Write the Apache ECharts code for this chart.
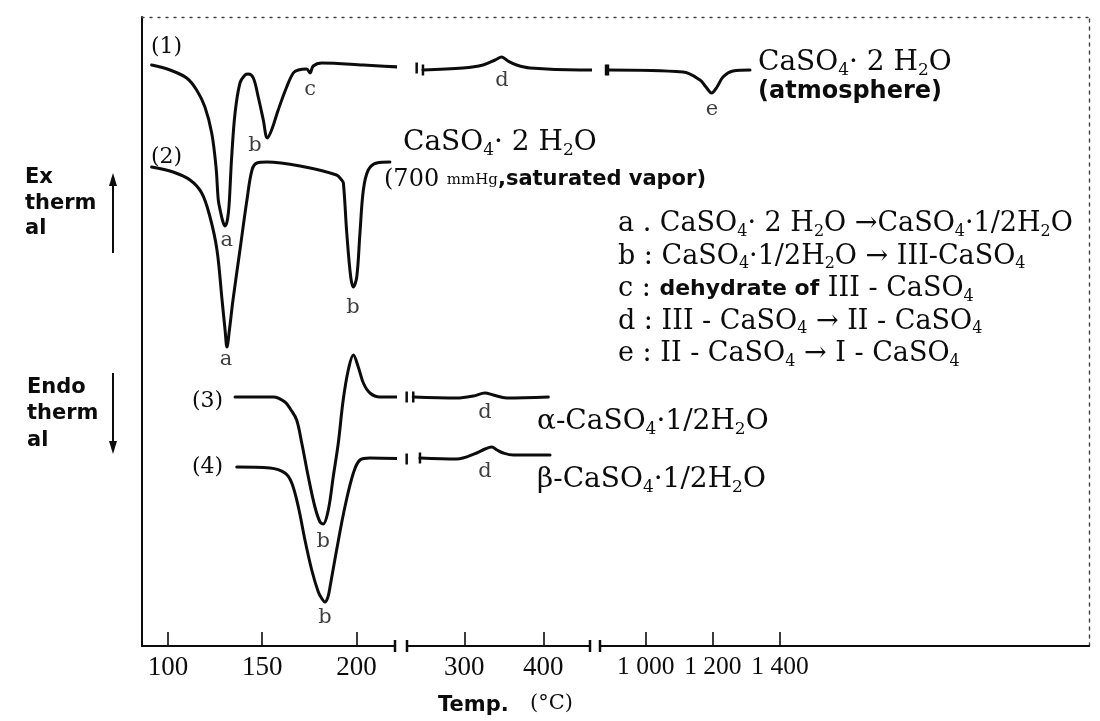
<!DOCTYPE html>
<html>
<head>
<meta charset="utf-8">
<script src="https://cdn.jsdelivr.net/npm/echarts@6/dist/echarts.min.js"></script>
<style>
html, body { margin: 0; padding: 0; background: #fff; }
#chart { width: 1100px; height: 721px; }
</style>
</head>
<body>
<div id="chart"></div>
<script>
// DTA curves of calcium sulfate hydrates; the temperature axis is broken into three ranges.

// tick values of the three temperature ranges (°C)
const lowTicks = [100, 150, 200];
const midTicks = [300, 400];
const highTicks = [1000, 1200, 1400];
const highTickLabels = ['1 000', '1 200', '1 400'];

// [temperature °C, DTA signal (arbitrary units)]
// (1) CaSO4·2H2O in atmosphere
const curve1Low = [
  [91.3, 58.1], [101.1, 57.6], [109.9, 56.8], [115.2, 55.6], [119.6, 53.9], [123.2, 51.3],
  [125.5, 47.9], [126.7, 44.6], [127.9, 43.4], [129.2, 42.4], [130.3, 42.0], [131.3, 42.4],
  [132.1, 43.4], [132.6, 44.6], [133.8, 48.9], [135.6, 53.3], [138.2, 56.3], [140.9, 57.1],
  [142.6, 57.2], [145.3, 56.8], [147.9, 54.9], [150.6, 52.6], [152.7, 50.8], [155.0, 51.6],
  [158.5, 53.6], [163.0, 55.9], [166.5, 57.3], [169.2, 57.6], [173.6, 57.7], [175.4, 57.3],
  [177.1, 58.0], [181.6, 58.3], [203.7, 58.1], [232.0, 57.8]
];
const curve1Mid = [
  [247.7, 57.6], [298.4, 57.8], [323.7, 58.1], [339.0, 58.6], [347.3, 58.9], [355.3, 58.5],
  [366.3, 58.1], [383.2, 57.8], [446.5, 57.6], [479.4, 57.6]
];
const curve1High = [
  [887.7, 57.6], [1111.1, 57.4], [1161.7, 56.6], [1179.6, 55.9], [1196.2, 55.3], [1212.3, 55.9],
  [1230.2, 56.9], [1260.0, 57.5], [1310.6, 57.6]
];
// (2) CaSO4·2H2O under saturated vapour
const curve2Low = [
  [91.3, 47.9], [102.7, 47.4], [111.7, 46.6], [117.9, 45.3], [122.3, 42.9], [126.0, 39.6],
  [128.7, 34.6], [130.3, 31.6], [131.3, 29.9], [132.6, 31.6], [134.5, 34.6], [138.2, 39.6],
  [141.9, 44.6], [144.6, 47.6], [147.2, 48.3], [152.5, 48.4], [170.1, 48.0], [189.5, 47.1],
  [192.2, 46.6], [193.1, 46.3], [194.9, 41.3], [197.0, 36.9], [198.4, 35.9], [200.2, 36.9],
  [201.9, 41.3], [203.7, 45.6], [206.3, 47.6], [210.8, 48.3], [217.8, 48.4]
];
// (3) alpha hemihydrate
const curve3Low = [
  [135.6, 24.9], [155.9, 24.9], [162.1, 24.4], [165.3, 23.6], [168.3, 22.6], [171.0, 20.3],
  [174.5, 16.9], [178.0, 13.9], [180.7, 12.4], [182.4, 12.2], [185.1, 13.6], [187.7, 16.9],
  [190.4, 20.3], [193.0, 24.6], [195.7, 27.6], [198.4, 29.1], [201.0, 27.9], [203.7, 26.3],
  [207.2, 25.3], [212.5, 24.9], [226.7, 24.9]
];
const curve3Mid = [
  [235.4, 24.9], [290.4, 24.8], [311.4, 25.0], [326.2, 25.3], [336.7, 25.1], [353.7, 24.8],
  [406.3, 24.9]
];
// (4) beta hemihydrate
const curve4Low = [
  [136.5, 17.9], [154.1, 17.8], [162.1, 17.3], [165.7, 16.3], [169.2, 13.9], [172.7, 10.6],
  [176.3, 7.6], [179.8, 5.4], [181.8, 4.7], [183.3, 4.4], [184.9, 4.9], [186.0, 5.9],
  [189.5, 9.6], [193.9, 13.9], [198.4, 17.3], [201.9, 18.6], [207.2, 18.8], [226.7, 18.7]
];
const curve4Mid = [
  [243.9, 18.8], [290.4, 18.7], [315.7, 19.3], [326.2, 19.7], [334.7, 19.9], [341.4, 19.6],
  [349.4, 19.3], [362.0, 19.1], [408.5, 19.1]
];

// reaction letters beside the peaks: [temperature, signal, letter]
const lettersLow = [
  [131.2, 40.5, 'a'], [146.2, 50.0, 'b'], [175.4, 55.6, 'c'],
  [130.8, 28.6, 'a'], [198.2, 33.8, 'b'],
  [182.4, 10.4, 'b'], [183.3, 2.8, 'b']
];
const lettersMid = [[347.7, 56.5, 'd'], [326.2, 23.3, 'd'], [326.2, 17.4, 'd']];
const lettersHigh = [[1197.4, 53.6, 'e']];

const INK = '#0c0c0c';
const SERIF = '"DejaVu Serif", serif';
const NUMSERIF = '"Liberation Serif", serif';
const SANS = '"DejaVu Sans", sans-serif';

const chart = echarts.init(document.getElementById('chart'), null, { renderer: 'canvas' });

// short vertical bar drawn where a curve is cut at an axis break
function cut(p) {
  return { value: p, symbol: 'rect', symbolSize: [2.5, 11], itemStyle: { color: INK } };
}
function withCuts(arr, atStart, atEnd) {
  return arr.map((p, i) => {
    if ((atStart && i === 0) || (atEnd && i === arr.length - 1)) return cut(p);
    return p;
  });
}

function curve(name, data, gi) {
  return {
    name, type: 'line', xAxisIndex: gi, yAxisIndex: gi, data,
    clip: false, smooth: 0.35, silent: true,
    symbol: 'circle', symbolSize: 0, showSymbol: true,
    lineStyle: { color: INK, width: 3, cap: 'round', join: 'round' }, itemStyle: { color: INK }
  };
}
function letters(data, gi) {
  return {
    type: 'scatter', xAxisIndex: gi, yAxisIndex: gi, data, silent: true, clip: false,
    symbolSize: 1, itemStyle: { color: 'rgba(0,0,0,0)' },
    label: {
      show: true, position: 'inside', color: INK, fontFamily: SERIF, fontSize: 21,
      formatter: p => p.value[2]
    }
  };
}

function subRich(size, boldSize) {
  const s = Math.round(size * 0.6);
  return {
    s: { fontFamily: SERIF, fontSize: s, lineHeight: s, verticalAlign: 'bottom', fill: INK },
    b: { fontFamily: SANS, fontWeight: 'bold', fontSize: boldSize || Math.round(size * 0.8), fill: INK },
    m: { fontFamily: SERIF, fontSize: Math.round(size * 0.62), fill: INK }
  };
}
function txt(x, y, text, size, family, weight, boldSize) {
  return {
    type: 'text', x, y, silent: true,
    style: {
      text, fontFamily: family || SERIF, fontSize: size, fontWeight: weight || 'normal',
      fill: INK, lineHeight: size + 4,
      align: 'left', verticalAlign: 'middle', textAlign: 'left', textVerticalAlign: 'middle',
      rich: subRich(size, boldSize)
    }
  };
}
function block(x, y, text, size, lineHeight) {
  return {
    type: 'text', x, y, silent: true,
    style: {
      text, fontFamily: SANS, fontWeight: 'bold', fontSize: size, fill: INK, lineHeight,
      align: 'left', verticalAlign: 'top', textAlign: 'left', textVerticalAlign: 'top'
    }
  };
}

const yCommon = { type: 'value', min: 0, max: 62.9, axisLabel: { show: false }, axisTick: { show: false }, splitLine: { show: false } };
const tickStyle = { show: true, inside: true, length: 14, lineStyle: { color: INK, width: 1.6 } };
const labelStyle = { color: INK, fontFamily: NUMSERIF, fontSize: 27, margin: 8 };
const baseLine = { show: true, onZero: false, lineStyle: { color: INK, width: 2 } };

const option = {
  animation: false,
  backgroundColor: '#fff',
  grid: [
    { left: 142, top: 17, width: 253, height: 629, outerBoundsMode: 'none' },
    { left: 407, top: 17, width: 183, height: 629, outerBoundsMode: 'none' },
    { left: 600, top: 17, width: 489, height: 629, outerBoundsMode: 'none' },
    { left: 142, top: 17, width: 947, height: 629, outerBoundsMode: 'none' }
  ],
  xAxis: [
    {
      gridIndex: 0, type: 'value', min: 86.2, max: 220.5, splitLine: { show: false },
      axisLine: Object.assign({}, baseLine, { symbol: ['none', 'rect'], symbolSize: [12, 2.5] }),
      axisTick: Object.assign({}, tickStyle, { customValues: lowTicks }),
      axisLabel: Object.assign({}, labelStyle, { customValues: lowTicks })
    },
    {
      gridIndex: 1, type: 'value', min: 227.5, max: 459.1, splitLine: { show: false },
      axisLine: Object.assign({}, baseLine, { symbol: ['rect', 'rect'], symbolSize: [12, 2.5] }),
      axisTick: Object.assign({}, tickStyle, { customValues: midTicks }),
      axisLabel: Object.assign({}, labelStyle, { customValues: midTicks })
    },
    {
      gridIndex: 2, type: 'value', min: 863.9, max: 2320, splitLine: { show: false },
      axisLine: Object.assign({}, baseLine, { symbol: ['rect', 'none'], symbolSize: [12, 2.5] }),
      axisTick: Object.assign({}, tickStyle, { customValues: highTicks }),
      axisLabel: Object.assign({}, labelStyle, {
        fontSize: 25.5,
        customValues: highTicks,
        formatter: v => highTickLabels[highTicks.indexOf(v)] || ''
      })
    },
    {
      gridIndex: 3, type: 'value', position: 'top', min: 0, max: 1,
      axisLine: { show: true, onZero: false, lineStyle: { color: '#444', width: 1.4, type: [2, 6] } },
      axisTick: { show: false }, axisLabel: { show: false }, splitLine: { show: false }
    }
  ],
  yAxis: [
    Object.assign({}, yCommon, { gridIndex: 0, axisLine: { show: true, onZero: false, lineStyle: { color: INK, width: 2 } } }),
    Object.assign({}, yCommon, { gridIndex: 1, axisLine: { show: false } }),
    Object.assign({}, yCommon, { gridIndex: 2, axisLine: { show: false } }),
    {
      gridIndex: 3, type: 'value', position: 'right', min: 0, max: 1,
      axisLine: { show: true, onZero: false, lineStyle: { color: '#444', width: 1.4, type: [3, 5] } },
      axisTick: { show: false }, axisLabel: { show: false }, splitLine: { show: false }
    }
  ],
  series: [
    curve('(1) low', withCuts(curve1Low, false, true), 0),
    curve('(1) mid', withCuts(curve1Mid, true, true), 1),
    curve('(1) high', withCuts(curve1High, true, false), 2),
    curve('(2)', curve2Low, 0),
    curve('(3) low', withCuts(curve3Low, false, true), 0),
    curve('(3) mid', withCuts(curve3Mid, true, false), 1),
    curve('(4) low', withCuts(curve4Low, false, true), 0),
    curve('(4) mid', withCuts(curve4Mid, true, false), 1),
    letters(lettersLow, 0),
    letters(lettersMid, 1),
    letters(lettersHigh, 2)
  ],
  graphic: [
    // curve numbers
    txt(151, 47, '(1)', 22),
    txt(151, 157, '(2)', 22),
    txt(192, 401, '(3)', 22),
    txt(192, 467, '(4)', 22),
    // sample descriptions
    txt(758, 63, 'CaSO{s|4}· 2 H{s|2}O', 28),
    txt(758, 92, '(atmosphere)', 24, SANS, 'bold'),
    txt(403, 143, 'CaSO{s|4}· 2 H{s|2}O', 28),
    txt(384, 180, '(700 {m|mmHg}{b|,saturated vapor)}', 24, SERIF, 'normal', 21),
    txt(537, 422, 'α-CaSO{s|4}·1/2H{s|2}O', 28),
    txt(537, 480, 'β-CaSO{s|4}·1/2H{s|2}O', 28),
    // reaction key
    txt(618, 224, 'a . CaSO{s|4}· 2 H{s|2}O →CaSO{s|4}·1/2H{s|2}O', 27),
    txt(618, 256.5, 'b : CaSO{s|4}·1/2H{s|2}O → III-CaSO{s|4}', 27),
    txt(618, 289, 'c : {b|dehydrate of} III - CaSO{s|4}', 27),
    txt(618, 321.5, 'd : III - CaSO{s|4} → II - CaSO{s|4}', 27),
    txt(618, 354, 'e : II - CaSO{s|4} → I - CaSO{s|4}', 27),
    // heat-flow direction
    block(25, 165, 'Ex\ntherm\nal', 21, 25.5),
    block(27, 374, 'Endo\ntherm\nal', 21, 26.5),
    { type: 'line', silent: true, shape: { x1: 113, y1: 253, x2: 113, y2: 182 }, style: { stroke: INK, lineWidth: 2 } },
    { type: 'polygon', silent: true, shape: { points: [[113, 173], [109, 186], [117, 186]] }, style: { fill: INK } },
    { type: 'line', silent: true, shape: { x1: 113, y1: 373, x2: 113, y2: 444 }, style: { stroke: INK, lineWidth: 2 } },
    { type: 'polygon', silent: true, shape: { points: [[113, 454], [109, 441], [117, 441]] }, style: { fill: INK } },
    // axis title
    txt(438, 706, 'Temp.', 21, SANS, 'bold'),
    txt(530, 704, '(°C)', 21)
  ]
};

chart.setOption(option);
</script>
</body>
</html>
